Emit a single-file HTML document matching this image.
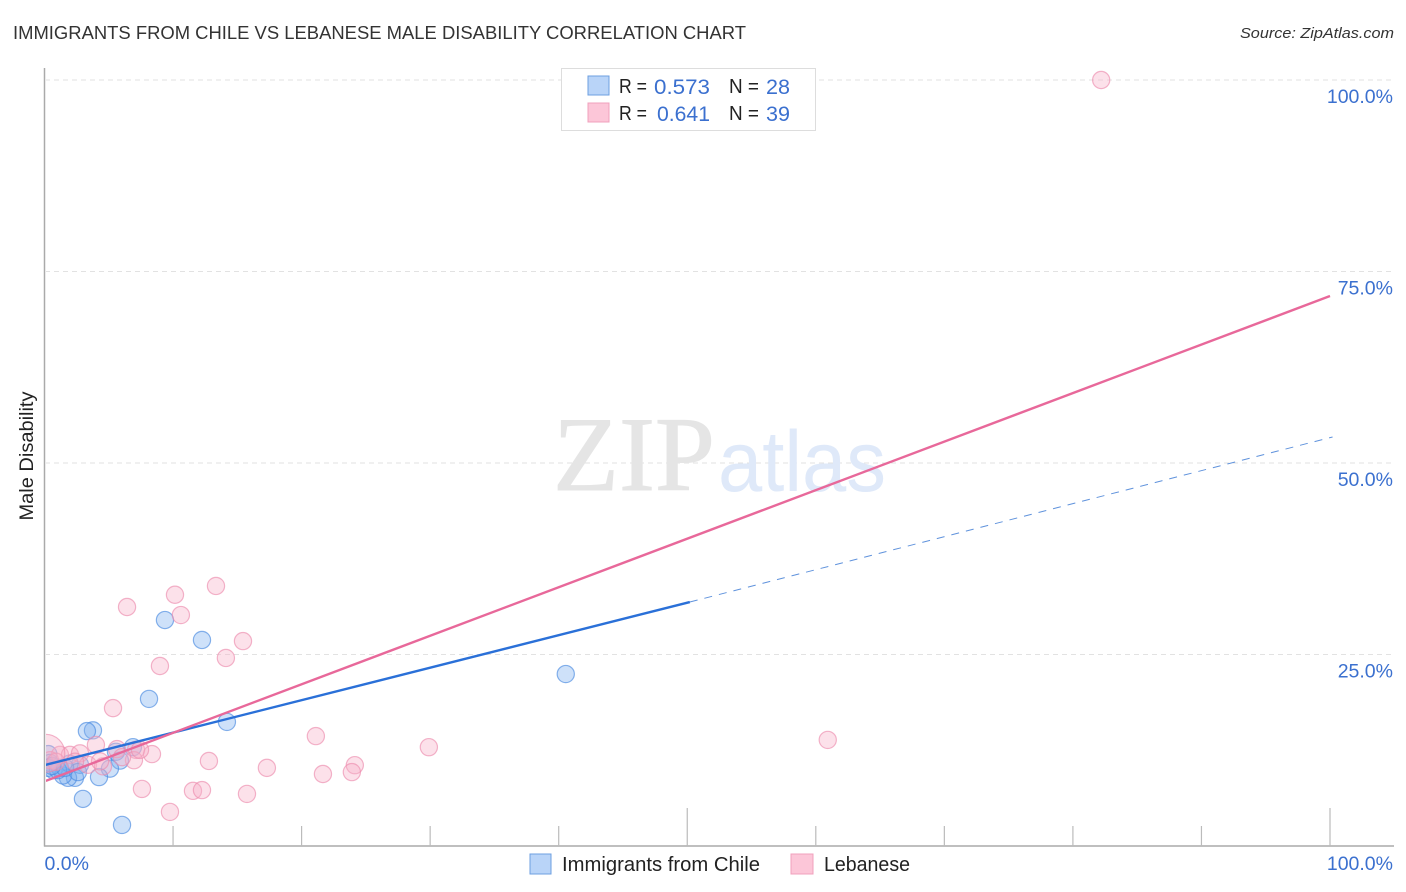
<!DOCTYPE html>
<html>
<head>
<meta charset="utf-8">
<style>
html,body{margin:0;padding:0;background:#fff;}
svg{display:block;font-family:"Liberation Sans",sans-serif;}
</style>
</head>
<body>
<svg id="chart" width="1406" height="892" viewBox="0 0 1406 892" xmlns="http://www.w3.org/2000/svg">
  <text x="13" y="39" font-size="18.5" fill="#333" textLength="733" lengthAdjust="spacingAndGlyphs">IMMIGRANTS FROM CHILE VS LEBANESE MALE DISABILITY CORRELATION CHART</text>
  <text x="1394" y="38" font-size="15" font-style="italic" fill="#333" text-anchor="end" textLength="154" lengthAdjust="spacingAndGlyphs">Source: ZipAtlas.com</text>
  <g id="grid"></g>
  <g>
    <text x="553" y="490" font-family="'Liberation Serif',serif" font-size="106" fill="#e5e5e5" stroke="#e5e5e5" stroke-width="1" textLength="162" lengthAdjust="spacingAndGlyphs">ZIP</text>
    <text x="718" y="491" font-size="86" fill="#dfe9f9" textLength="168" lengthAdjust="spacingAndGlyphs">atlas</text>
  </g>
  <g id="points"></g>
  <g id="trends"></g>
  <rect x="0" y="60" width="46" height="786" fill="#fff"/>
  <g id="axes"></g>
  <text transform="translate(33,456) rotate(-90)" font-size="19.5" fill="#222" text-anchor="middle" textLength="129" lengthAdjust="spacingAndGlyphs">Male Disability</text>

  <g>
    <rect x="561.5" y="68.5" width="254" height="62" fill="#fff" stroke="#ddd"/>
    <rect x="588" y="76" width="21" height="19" fill="#b9d4f8" stroke="#6d9fe0"/>
    <rect x="588" y="103" width="21" height="19" fill="#fcc6d8" stroke="#f0a0bc"/>
    <g font-size="20" fill="#222">
      <text x="619" y="93" textLength="28" lengthAdjust="spacingAndGlyphs">R =</text>
      <text x="729" y="93" textLength="30" lengthAdjust="spacingAndGlyphs">N =</text>
      <text x="619" y="120" textLength="28" lengthAdjust="spacingAndGlyphs">R =</text>
      <text x="729" y="120" textLength="30" lengthAdjust="spacingAndGlyphs">N =</text>
    </g>
    <g font-size="21.5" fill="#3b70cf">
      <text x="654" y="94" textLength="56" lengthAdjust="spacingAndGlyphs">0.573</text>
      <text x="766" y="94" textLength="24" lengthAdjust="spacingAndGlyphs">28</text>
      <text x="657" y="121" textLength="53" lengthAdjust="spacingAndGlyphs">0.641</text>
      <text x="766" y="121" textLength="24" lengthAdjust="spacingAndGlyphs">39</text>
    </g>
  </g>

  <g>
    <rect x="530" y="854" width="21" height="20" fill="#b9d4f8" stroke="#6d9fe0"/>
    <text x="562" y="871" font-size="20" fill="#222" textLength="198" lengthAdjust="spacingAndGlyphs">Immigrants from Chile</text>
    <rect x="791" y="854" width="22" height="20" fill="#fcc6d8" stroke="#f0a0bc"/>
    <text x="824" y="871" font-size="20" fill="#222" textLength="86" lengthAdjust="spacingAndGlyphs">Lebanese</text>
  </g>
</svg>
<script>
const yTickValues = [25, 50, 75, 100];
const yTickLabels = ["25.0%", "50.0%", "75.0%", "100.0%"];
const xTickValues = [0, 10, 20, 30, 40, 50, 60, 70, 80, 90, 100];
const xEndValues = [0, 100];
const xEndLabels = ["0.0%", "100.0%"];

const chileX = [9.37,12.25,40.55,8.13,3.77,3.3,14.19,6.88,5.56,5.87,5.09,4.24,2.99,6.03,2.37,1.83,1.44,2.76,0.7,0.27,1.21,0.3,0.43,1.95,2.6,1.05,1.6,0.58];
const chileY = [29.5,26.9,22.45,19.2,15.1,15,16.2,12.9,12.3,11.15,10.1,9,6.15,2.75,8.9,8.9,9.2,10.6,9.9,10.2,10.2,12,10.85,10.75,9.65,9.9,10.2,10.45];

const lebaneseX = [82.2,13.34,10.15,6.42,10.61,15.44,14.11,8.98,5.33,21.11,29.9,60.93,4,8.36,7.12,5.64,12.79,6.96,17.3,21.66,24.14,23.91,7.58,11.55,12.25,15.75,9.76,1.2,1.98,2.76,3.38,4.55,0.43,0.89,2.37,4.32,6.03,7.43];
const lebaneseY = [100,33.95,32.8,31.2,30.15,26.75,24.55,23.5,18,14.35,12.9,13.85,13.2,12,12.55,12.65,11.1,11.2,10.2,9.4,10.55,9.65,7.45,7.2,7.3,6.8,4.45,11.9,11.9,12.1,10.6,10.4,11.2,11,11,11.05,11.6,12.55];
const lebaneseLargeX = [0.1];
const lebaneseLargeY = [12.1];

const chileSolidX = [0.1, 50.2];
const chileSolidY = [10.6, 31.85];
const chileDashX = [50.2, 100.2];
const chileDashY = [31.85, 53.4];
const lebaneseTrendX = [0.1, 100];
const lebaneseTrendY = [8.5, 71.8];

const NS = 'http://www.w3.org/2000/svg';
function sx(v) { return 44.5 + v * 12.855; }
function sy(v) { return 846 - v * 7.66; }
function make(tag, attrs, parent) {
  const el = document.createElementNS(NS, tag);
  for (const k in attrs) el.setAttribute(k, attrs[k]);
  parent.appendChild(el);
  return el;
}
const grid = document.getElementById('grid');
const axes = document.getElementById('axes');
const points = document.getElementById('points');
const trends = document.getElementById('trends');

yTickValues.forEach(function (v, i) {
  const line = make('line', {x1: 45, x2: 1393, y1: sy(v), y2: sy(v), stroke: '#e2e2e2', 'stroke-width': 1, 'stroke-dasharray': '5 4'}, grid);
  
  
  const label = make('text', {x: 1393, y: sy(v) + 23, 'font-size': 19.5, fill: '#3b70cf', 'text-anchor': 'end'}, axes);
  
  
  label.textContent = yTickLabels[i];
});

const yAxis = make('line', {x1: 44.5, x2: 44.5, y1: 68, y2: 846.5, stroke: '#aaa', 'stroke-width': 1.5}, axes);


const xAxis = make('line', {x1: 44, x2: 1394, y1: 846, y2: 846, stroke: '#aaa', 'stroke-width': 1.5}, axes);



xTickValues.forEach(function (v) {
  if (v === 0) return;
  const tall = v % 50 === 0;
  const tick = make('line', {x1: sx(v), x2: sx(v), y1: tall ? 808 : 826, y2: 846, stroke: '#bbb', 'stroke-width': 1.2}, axes);
  
  
});

xEndValues.forEach(function (v, i) {
  const label = make('text', {x: i === 0 ? sx(v) : 1393, y: 870, 'font-size': 19.5, fill: '#3b70cf', 'text-anchor': i === 0 ? 'start' : 'end'}, axes);
  
  
  label.textContent = xEndLabels[i];
});

function drawPoints(xs, ys, radius, fill, stroke, name) {
  xs.forEach(function (x, i) {
    const c = make('circle', {cx: sx(x), cy: sy(ys[i]), r: radius, fill: fill, 'fill-opacity': 0.38, stroke: stroke, 'stroke-opacity': 0.65, 'stroke-width': 1.2}, points);
    
    
  });
}
drawPoints(chileX, chileY, 8.6, '#7fb0ef', '#4a8ae0', 'chile-point');
drawPoints(lebaneseX, lebaneseY, 8.6, '#f7b0c8', '#ec8cae', 'lebanese-point');
drawPoints(lebaneseLargeX, lebaneseLargeY, 19, '#f7b0c8', '#ec8cae', 'lebanese-point-large');

function drawTrend(xs, ys, stroke, width, dash, name) {
  const attrs = {x1: sx(xs[0]), y1: sy(ys[0]), x2: sx(xs[1]), y2: sy(ys[1]), stroke: stroke, 'stroke-width': width};
  if (dash) attrs['stroke-dasharray'] = dash;
  const line = make('line', attrs, trends);
  
  
}
drawTrend(chileDashX, chileDashY, '#5f92dc', 1, '8 7', 'chile-trend-projection');
drawTrend(chileSolidX, chileSolidY, '#2a70d8', 2.4, null, 'chile-trend-line');
drawTrend(lebaneseTrendX, lebaneseTrendY, '#e8689a', 2.4, null, 'lebanese-trend-line');
</script>
</body>
</html>
